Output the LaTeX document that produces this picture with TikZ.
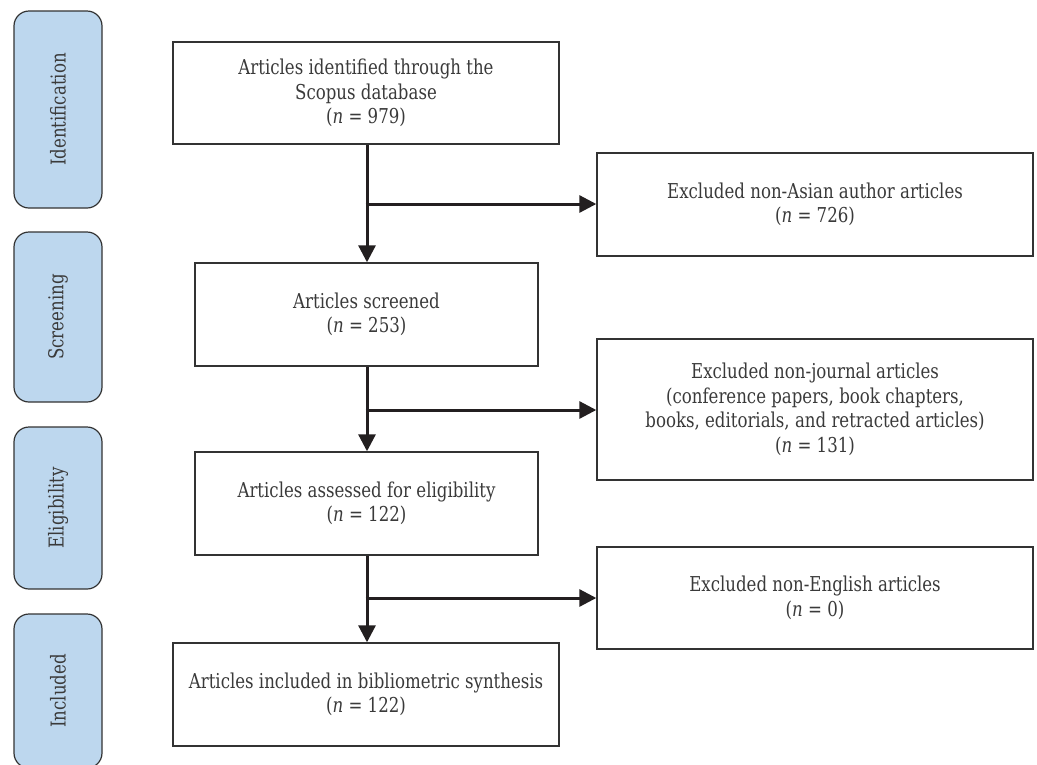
\documentclass[tikz,border=0pt]{standalone}
\usepackage{fontspec}
\setmainfont{DejaVu Serif Condensed}[FakeStretch=0.9]
\usetikzlibrary{arrows.meta}
\definecolor{phasefill}{HTML}{BDD7EE}
\definecolor{edgegray}{HTML}{333333}
\definecolor{txtgray}{HTML}{3A3A3A}
\definecolor{arrowink}{HTML}{231F20}
\tikzset{
  flowbox/.style={draw=edgegray, line width=1.4pt, fill=white, rectangle,
    align=center, text=txtgray, inner sep=0pt,
    font=\fontsize{20.5}{24.5}\selectfont},
  phasebox/.style={draw=edgegray, line width=1.2pt, fill=phasefill,
    rounded corners=15pt, minimum width=88pt},
  phaselabel/.style={rotate=90, text=txtgray, font=\fontsize{20.5}{24}\selectfont},
  flow/.style={draw=arrowink, line width=3pt,
    -{Triangle[length=17pt,width=17pt]}}
}
\begin{document}
\begin{tikzpicture}[x=1pt,y=-1pt]
\useasboundingbox (0,0) rectangle (1037,764);

% phase labels on the left
\node[phasebox, minimum height=197pt] (ident) at (58,109.5) {};
\node[phaselabel] (identtxt) at (ident.center) {Identification};
\node[phasebox, minimum height=170pt] (screen) at (58,317) {};
\node[phaselabel] (screentxt) at (screen.center) {Screening};
\node[phasebox, minimum height=162pt] (elig) at (58,508) {};
\node[phaselabel] (eligtxt) at (elig.center) {Eligibility};
\node[phasebox, minimum height=154pt] (incl) at (58,691) {};
\node[phaselabel] (incltxt) at (incl.center) {Included};

% main column
\node[flowbox, minimum width=386pt, minimum height=102pt] (found) at (366,93)
  {Articles identified through the\\Scopus database\\(\textit{n} = 979)};
\node[flowbox, minimum width=343pt, minimum height=103pt] (screened) at (366.5,314.5)
  {Articles screened\\(\textit{n} = 253)};
\node[flowbox, minimum width=343pt, minimum height=103pt] (assessed) at (366.5,503.5)
  {Articles assessed for eligibility\\(\textit{n} = 122)};
\node[flowbox, minimum width=386pt, minimum height=103pt] (included) at (366,694.5)
  {Articles included in bibliometric synthesis\\(\textit{n} = 122)};

% exclusion column
\node[flowbox, minimum width=436pt, minimum height=103pt] (exA) at (815,204.5)
  {Excluded non-Asian author articles\\(\textit{n} = 726)};
\node[flowbox, minimum width=436pt, minimum height=141pt] (exB) at (815,409.5)
  {Excluded non-journal articles\\(conference papers, book chapters,\\books, editorials, and retracted articles)\\(\textit{n} = 131)};
\node[flowbox, minimum width=436pt, minimum height=102pt] (exC) at (815,598)
  {Excluded non-English articles\\(\textit{n} = 0)};

% branch points on the main line
\coordinate (j1) at (367,204);
\coordinate (j2) at (367,410);
\coordinate (j3) at (367,598);

\draw[flow] (found.south -| j1) -- (screened.north -| j1);
\draw[flow] (screened.south -| j2) -- (assessed.north -| j2);
\draw[flow] (assessed.south -| j3) -- (included.north -| j3);
\draw[flow] ([xshift=-1.5pt]j1) -- (exA.west |- j1);
\draw[flow] ([xshift=-1.5pt]j2) -- (exB.west |- j2);
\draw[flow] ([xshift=-1.5pt]j3) -- (exC.west |- j3);
\end{tikzpicture}
\end{document}
